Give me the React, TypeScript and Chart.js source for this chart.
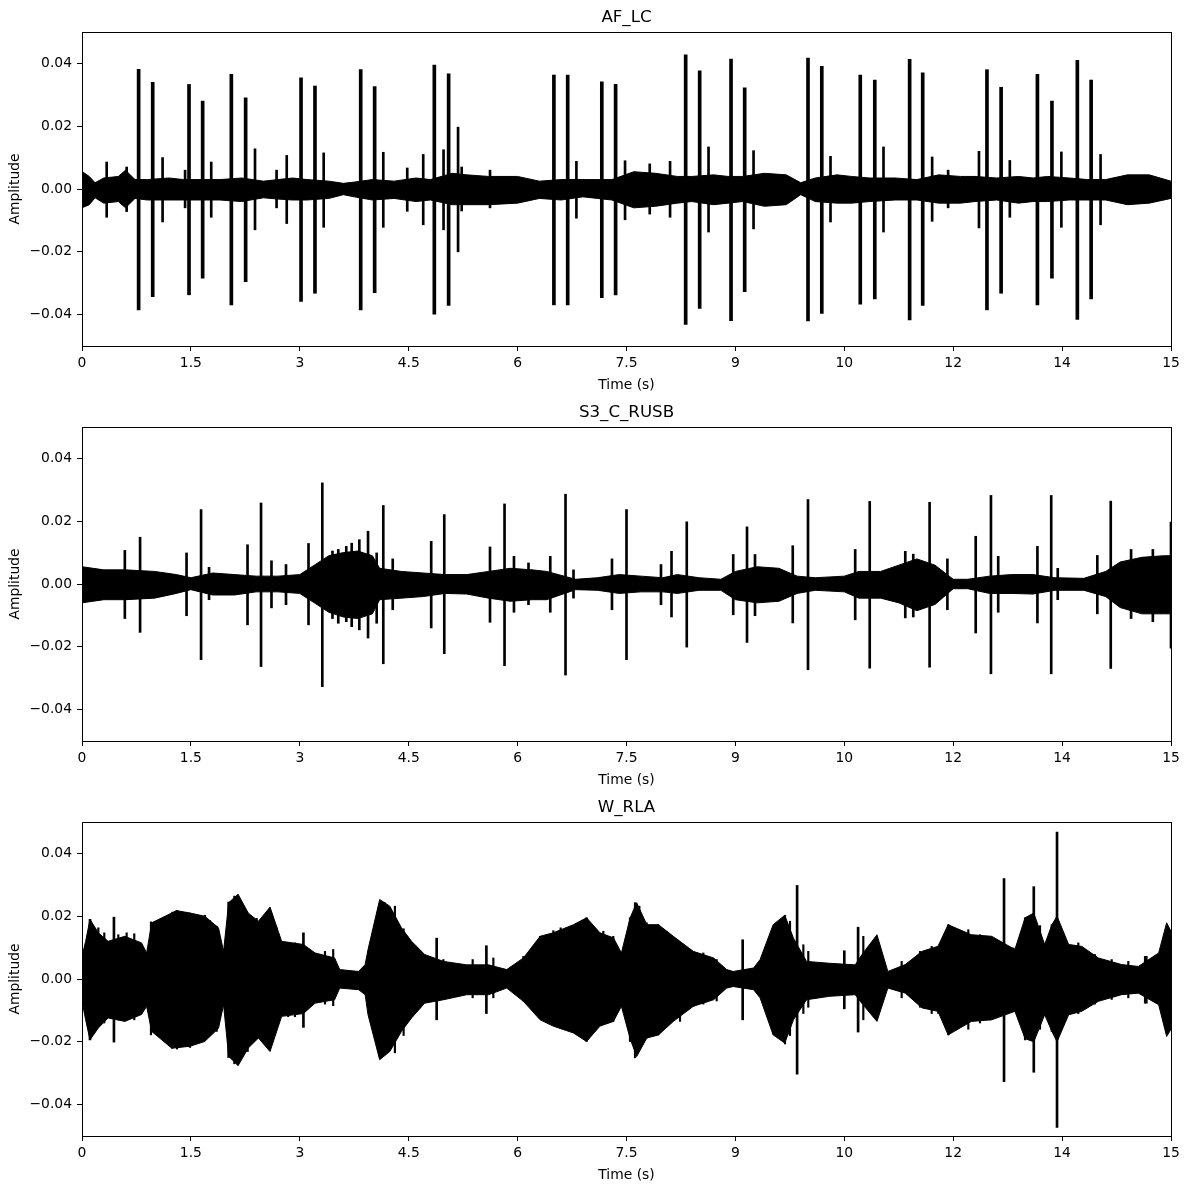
import React, { useEffect, useRef } from 'react';
import { Chart, registerables } from 'chart.js';

Chart.register(...registerables);

const FONT = 'DejaVu Sans';
Chart.defaults.font.family = FONT;

// ---- axes ----
const X_TICKS = [0, 1.5, 3, 4.5, 6, 7.5, 9, 10.5, 12, 13.5, 15];
const X_TICK_LABELS = ['0', '1.5', '3', '4.5', '6', '7.5', '9', '10', '12', '14', '15'];
const Y_TICKS = [-0.04, -0.02, 0, 0.02, 0.04];
const TITLES = ['AF_LC', 'S3_C_RUSB', 'W_RLA'];

// ---- AF_LC : noise envelope ----
const AF_T = [0, 0.1, 0.18, 0.3, 0.5, 0.6, 0.73, 0.9, 1.2, 1.4, 1.6, 1.9, 2.2, 2.5, 2.7, 2.9, 3.1, 3.4, 3.6, 3.75, 4.0, 4.3, 4.6, 4.8, 5.1, 5.3, 5.6, 6.0, 6.3, 6.6, 6.9, 7.1, 7.3, 7.6, 7.9, 8.2, 8.4, 8.7, 8.9, 9.1, 9.4, 9.7, 9.9, 10.1, 10.4, 10.6, 10.85, 11.2, 11.5, 11.8, 12.1, 12.3, 12.6, 12.9, 13.1, 13.3, 13.6, 13.85, 14.1, 14.4, 14.7, 15.0];
const AF_UP = [0.0056, 0.004, 0.002, 0.0035, 0.004, 0.006, 0.003, 0.003, 0.0035, 0.003, 0.003, 0.003, 0.0035, 0.0025, 0.003, 0.0035, 0.003, 0.0025, 0.0018, 0.0022, 0.003, 0.0025, 0.0035, 0.003, 0.005, 0.0045, 0.004, 0.004, 0.0025, 0.003, 0.003, 0.003, 0.003, 0.0055, 0.005, 0.004, 0.004, 0.0045, 0.004, 0.004, 0.005, 0.0045, 0.002, 0.0035, 0.0045, 0.004, 0.0035, 0.0035, 0.003, 0.0045, 0.004, 0.004, 0.0035, 0.004, 0.0035, 0.004, 0.0035, 0.003, 0.003, 0.0045, 0.0045, 0.0025];
const AF_LO = [-0.006, -0.005, -0.0028, -0.0045, -0.004, -0.006, -0.003, -0.0035, -0.0035, -0.0035, -0.0035, -0.0035, -0.004, -0.0028, -0.0032, -0.0035, -0.0035, -0.003, -0.0018, -0.0025, -0.0035, -0.003, -0.004, -0.0035, -0.005, -0.005, -0.005, -0.0045, -0.003, -0.0035, -0.0025, -0.003, -0.0035, -0.006, -0.0055, -0.0045, -0.004, -0.005, -0.0045, -0.004, -0.0055, -0.005, -0.0018, -0.004, -0.0045, -0.0045, -0.004, -0.0035, -0.0035, -0.0045, -0.0045, -0.004, -0.0035, -0.0045, -0.004, -0.004, -0.0035, -0.0035, -0.0035, -0.005, -0.0045, -0.003];
// ---- AF_LC : heart-sound spikes ----
const AF_SPIKE_T = [0.78, 0.974, 1.474, 1.662, 2.057, 2.254, 3.017, 3.209, 3.839, 4.031, 4.853, 5.05, 6.5, 6.69, 7.16, 7.35, 8.315, 8.508, 8.94, 9.128, 10.0, 10.19, 10.72, 10.92, 11.4, 11.58, 12.465, 12.66, 13.16, 13.36, 13.71, 13.9];
const AF_SPIKE_HI = [0.0381, 0.034, 0.0333, 0.028, 0.0365, 0.029, 0.0354, 0.0328, 0.038, 0.0326, 0.0395, 0.0367, 0.0363, 0.0363, 0.0341, 0.0333, 0.0427, 0.0376, 0.0414, 0.0322, 0.0417, 0.0391, 0.0363, 0.0347, 0.0413, 0.037, 0.038, 0.0324, 0.0365, 0.028, 0.041, 0.0347];
const AF_SPIKE_LO = [-0.0385, -0.0343, -0.0337, -0.0284, -0.0369, -0.0295, -0.0358, -0.0332, -0.0385, -0.033, -0.0399, -0.0371, -0.0369, -0.0369, -0.0346, -0.0337, -0.0431, -0.038, -0.0419, -0.0327, -0.042, -0.0396, -0.0367, -0.035, -0.0417, -0.0371, -0.0385, -0.0332, -0.0369, -0.0284, -0.0415, -0.035];
// ---- AF_LC : smaller bursts ----
const AF_BURST_T = [0.34, 0.615, 1.11, 1.42, 1.78, 2.383, 2.68, 2.82, 3.329, 4.15, 4.48, 4.7, 4.98, 5.18, 5.23, 5.62, 6.81, 7.48, 7.82, 8.1, 8.63, 9.25, 10.31, 11.04, 11.71, 11.93, 12.355, 12.78, 13.49, 14.03];
const AF_BURST_HI = [0.0086, 0.007, 0.01, 0.006, 0.0086, 0.0128, 0.006, 0.0107, 0.0115, 0.0117, 0.0067, 0.011, 0.0125, 0.0197, 0.007, 0.006, 0.0088, 0.009, 0.008, 0.0088, 0.0134, 0.0122, 0.0104, 0.0134, 0.0102, 0.006, 0.012, 0.0091, 0.0118, 0.011];
const AF_BURST_LO = [-0.009, -0.0072, -0.0105, -0.006, -0.009, -0.013, -0.006, -0.011, -0.0122, -0.0122, -0.0071, -0.0114, -0.013, -0.02, -0.007, -0.006, -0.0093, -0.0098, -0.008, -0.009, -0.0137, -0.0127, -0.0105, -0.0137, -0.0103, -0.006, -0.0124, -0.009, -0.0122, -0.0114];

// ---- S3_C_RUSB : noise envelope ----
const S3_T = [0, 0.3, 0.6, 1.0, 1.3, 1.5, 1.8, 2.1, 2.4, 2.7, 3.0, 3.2, 3.4, 3.6, 3.8, 4.0, 4.1, 4.4, 4.7, 5.0, 5.3, 5.6, 5.9, 6.2, 6.4, 6.8, 7.1, 7.4, 7.7, 8.0, 8.2, 8.5, 8.8, 9.0, 9.3, 9.6, 9.85, 10.1, 10.5, 10.7, 11.0, 11.25, 11.5, 11.75, 12.0, 12.2, 12.5, 12.8, 13.1, 13.4, 13.8, 14.1, 14.3, 14.6, 14.9, 15.0];
const S3_UP = [0.0055, 0.0045, 0.0045, 0.004, 0.003, 0.002, 0.0035, 0.003, 0.0025, 0.0025, 0.003, 0.006, 0.009, 0.01, 0.0105, 0.009, 0.005, 0.004, 0.0035, 0.003, 0.003, 0.004, 0.005, 0.0045, 0.004, 0.0015, 0.002, 0.003, 0.0025, 0.002, 0.003, 0.002, 0.0015, 0.004, 0.0055, 0.005, 0.0025, 0.002, 0.0025, 0.004, 0.004, 0.006, 0.008, 0.006, 0.0015, 0.0015, 0.0025, 0.003, 0.003, 0.002, 0.0018, 0.004, 0.007, 0.0085, 0.009, 0.009];
const S3_LO = [-0.006, -0.005, -0.005, -0.0045, -0.003, -0.0018, -0.0035, -0.0035, -0.0025, -0.0025, -0.003, -0.006, -0.009, -0.0105, -0.011, -0.0095, -0.005, -0.0045, -0.004, -0.003, -0.0032, -0.0045, -0.0055, -0.005, -0.005, -0.0018, -0.002, -0.003, -0.0025, -0.0025, -0.003, -0.002, -0.002, -0.005, -0.006, -0.0055, -0.003, -0.002, -0.0025, -0.0045, -0.0045, -0.006, -0.0085, -0.0065, -0.0015, -0.0015, -0.003, -0.003, -0.0032, -0.002, -0.002, -0.004, -0.0075, -0.0095, -0.0095, -0.0095];
// ---- S3_C_RUSB : heart-sound spikes ----
const S3_SPIKE_T = [0.8, 1.64, 2.466, 3.31, 4.15, 4.99, 5.82, 6.66, 7.5, 8.33, 9.16, 10.0, 10.85, 11.675, 12.52, 13.35, 14.17, 15.0];
const S3_SPIKE_HI = [0.0149, 0.0237, 0.0258, 0.0322, 0.025, 0.0221, 0.0255, 0.0286, 0.0237, 0.0198, 0.0182, 0.0269, 0.0263, 0.026, 0.0282, 0.0282, 0.0264, 0.0197];
const S3_SPIKE_LO = [-0.0154, -0.0241, -0.0263, -0.0327, -0.0254, -0.0222, -0.026, -0.029, -0.0241, -0.0201, -0.0186, -0.0273, -0.0268, -0.0265, -0.0286, -0.0286, -0.0269, -0.0204];
// ---- S3_C_RUSB : smaller bursts ----
const S3_BURST_T = [0.59, 1.44, 1.75, 2.28, 2.61, 2.81, 3.12, 3.45, 3.53, 3.64, 3.715, 3.82, 3.94, 4.059, 4.28, 4.81, 5.62, 5.95, 6.15, 6.45, 6.77, 7.3, 7.975, 8.12, 8.97, 9.27, 9.79, 10.65, 11.34, 11.45, 11.92, 12.31, 12.62, 13.16, 13.44, 13.985, 14.45, 14.75];
const S3_BURST_HI = [0.0107, 0.0099, 0.0053, 0.0125, 0.0074, 0.0062, 0.0129, 0.0105, 0.011, 0.012, 0.013, 0.0141, 0.0168, 0.0099, 0.008, 0.0136, 0.0118, 0.0088, 0.0067, 0.0088, 0.0045, 0.008, 0.0062, 0.0104, 0.0094, 0.0094, 0.0122, 0.011, 0.0104, 0.0095, 0.008, 0.0152, 0.0088, 0.012, 0.005, 0.0091, 0.011, 0.011];
const S3_BURST_LO = [-0.011, -0.0101, -0.005, -0.013, -0.0076, -0.0066, -0.013, -0.011, -0.0125, -0.012, -0.0136, -0.0146, -0.0172, -0.0125, -0.0082, -0.014, -0.0122, -0.009, -0.0066, -0.009, -0.0045, -0.0082, -0.0066, -0.0105, -0.0098, -0.0101, -0.0124, -0.0114, -0.0108, -0.0105, -0.0082, -0.0156, -0.009, -0.0124, -0.005, -0.0095, -0.011, -0.012];

// ---- W_RLA : noise envelope ----
const W_T = [0, 0.05, 0.11, 0.225, 0.36, 0.59, 0.82, 0.89, 0.96, 1.235, 1.3, 1.49, 1.69, 1.88, 1.95, 2.02, 2.15, 2.29, 2.43, 2.59, 2.75, 3.05, 3.21, 3.48, 3.55, 3.81, 3.9, 3.94, 4.1, 4.24, 4.4, 4.54, 4.72, 4.98, 5.3, 5.6, 5.85, 6.08, 6.31, 6.49, 6.77, 6.95, 7.135, 7.32, 7.43, 7.55, 7.64, 7.78, 7.94, 8.145, 8.42, 8.7, 8.88, 8.97, 9.25, 9.34, 9.52, 9.68, 9.8, 9.98, 10.3, 10.65, 10.75, 10.95, 11.1, 11.34, 11.57, 11.79, 11.93, 12.25, 12.53, 12.85, 12.99, 13.11, 13.26, 13.36, 13.43, 13.59, 13.77, 14.0, 14.32, 14.55, 14.83, 14.94, 15.0];
const W_UP = [0.0072, 0.012, 0.019, 0.0147, 0.012, 0.0136, 0.0115, 0.0083, 0.0179, 0.021, 0.0218, 0.021, 0.02, 0.0163, 0.0088, 0.0243, 0.027, 0.021, 0.0184, 0.0229, 0.012, 0.011, 0.0083, 0.0067, 0.003, 0.0024, 0.0046, 0.0094, 0.0253, 0.0232, 0.0163, 0.012, 0.0078, 0.0056, 0.0045, 0.0045, 0.003, 0.0067, 0.0136, 0.0147, 0.0173, 0.0195, 0.0147, 0.0131, 0.0083, 0.0195, 0.0243, 0.0173, 0.0173, 0.0136, 0.0088, 0.0067, 0.003, 0.0024, 0.0035, 0.0062, 0.0173, 0.0203, 0.013, 0.0056, 0.005, 0.0045, 0.008, 0.0141, 0.0024, 0.0046, 0.0088, 0.0104, 0.0173, 0.0141, 0.0136, 0.0094, 0.0195, 0.021, 0.011, 0.0173, 0.02, 0.011, 0.0104, 0.0067, 0.0046, 0.004, 0.0083, 0.0179, 0.0152];
const W_LO = [-0.0071, -0.013, -0.0194, -0.0156, -0.0124, -0.0135, -0.0113, -0.0087, -0.0167, -0.022, -0.0219, -0.0214, -0.0199, -0.0157, -0.0082, -0.0246, -0.0276, -0.022, -0.0188, -0.0231, -0.0119, -0.011, -0.0077, -0.0066, -0.0029, -0.0034, -0.005, -0.0114, -0.0257, -0.0231, -0.0167, -0.0124, -0.0077, -0.0066, -0.005, -0.005, -0.0029, -0.0071, -0.013, -0.015, -0.0172, -0.0199, -0.015, -0.0135, -0.0087, -0.019, -0.0247, -0.0188, -0.0178, -0.0135, -0.0087, -0.0066, -0.0029, -0.0024, -0.0034, -0.006, -0.0178, -0.0204, -0.013, -0.0066, -0.0055, -0.005, -0.008, -0.0135, -0.0029, -0.0045, -0.0092, -0.0103, -0.0178, -0.0135, -0.013, -0.0103, -0.019, -0.02, -0.0114, -0.0167, -0.02, -0.0114, -0.0103, -0.0071, -0.005, -0.0045, -0.0082, -0.0183, -0.016];
// ---- W_RLA : spikes ----
const W_SPIKE_T = [0.11, 0.44, 2.02, 3.05, 4.885, 5.57, 9.1, 9.85, 10.5, 10.69, 12.7, 13.11, 13.43, 14.66];
const W_SPIKE_HI = [0.019, 0.0197, 0.0245, 0.0147, 0.013, 0.0106, 0.0125, 0.0298, 0.009, 0.0165, 0.032, 0.0294, 0.0468, 0.0072];
const W_SPIKE_LO = [-0.0194, -0.0201, -0.025, -0.0154, -0.013, -0.011, -0.013, -0.0303, -0.0095, -0.0169, -0.0327, -0.0297, -0.0473, -0.0077];
// ---- W_RLA : jagged strokes along the envelope ----
const W_BURST_T = [0.225, 0.307, 0.5, 0.615, 0.72, 0.95, 1.03, 1.088, 1.166, 1.244, 1.309, 1.373, 1.488, 1.556, 1.694, 1.763, 1.855, 2.098, 2.282, 2.406, 2.68, 2.84, 2.934, 3.347, 3.46, 4.17, 4.31, 4.43,
  4.977, 5.161, 5.381, 5.666, 6.079, 6.309, 6.4, 6.492, 6.593, 6.676, 6.814, 6.951, 7.043, 7.181, 7.318, 7.548, 7.617, 7.677, 7.778, 7.938, 8.053, 8.237, 8.42, 8.558, 8.742, 9.362, 9.522, 9.683, 9.752, 9.936,
  10.004, 10.234, 10.762, 11.29, 11.543, 11.704, 11.795, 11.933, 12.048, 12.208, 12.369, 12.507, 12.828, 12.989, 13.196, 13.357, 13.563, 13.723, 13.953, 14.183, 14.412, 14.642];
const W_BURST_HI = [0.0163, 0.0147, 0.0141, 0.0147, 0.0144, 0.0182, 0.0176, 0.0173, 0.0163, 0.0213, 0.0218, 0.0184, 0.021, 0.0195, 0.0203, 0.0186, 0.0168, 0.0264, 0.0205, 0.0193, 0.0163, 0.0115, 0.0115, 0.0088, 0.0094, 0.0243, 0.0232, 0.016,
  0.0062, 0.0046, 0.0062, 0.0067, 0.0072, 0.0136, 0.0141, 0.0154, 0.0163, 0.0163, 0.0176, 0.0195, 0.0163, 0.0152, 0.0136, 0.0195, 0.0243, 0.0232, 0.0179, 0.0173, 0.0152, 0.0115, 0.0083, 0.0083, 0.0062, 0.0062, 0.0163, 0.0203, 0.0184, 0.0109,
  0.0088, 0.0046, 0.0136, 0.0056, 0.0088, 0.0104, 0.0104, 0.0173, 0.0147, 0.0157, 0.0141, 0.013, 0.0099, 0.0195, 0.017, 0.0173, 0.011, 0.0115, 0.0078, 0.0062, 0.0056, 0.0072];
const W_BURST_LO = [-0.015, -0.014, -0.013, -0.0129, -0.013, -0.0178, -0.017, -0.0183, -0.018, -0.0221, -0.0223, -0.019, -0.0218, -0.019, -0.0189, -0.018, -0.0167, -0.027, -0.0231, -0.019, -0.0145, -0.012, -0.012, -0.008, -0.0085, -0.024, -0.0235, -0.018,
  -0.006, -0.0055, -0.006, -0.006, -0.007, -0.0119, -0.0136, -0.0145, -0.0156, -0.016, -0.0167, -0.0199, -0.015, -0.014, -0.0135, -0.0199, -0.0251, -0.022, -0.0188, -0.0178, -0.015, -0.0135, -0.0087, -0.008, -0.007, -0.006, -0.0175, -0.0207, -0.018, -0.011,
  -0.009, -0.005, -0.013, -0.006, -0.009, -0.011, -0.011, -0.0178, -0.015, -0.016, -0.014, -0.013, -0.01, -0.0194, -0.016, -0.0167, -0.0115, -0.011, -0.008, -0.0065, -0.006, -0.0077];

const framePlugin = {
  id: 'frame',
  afterDraw(chart: any) {
    const { ctx, chartArea } = chart;
    const l = Math.round(chartArea.left), t = Math.round(chartArea.top);
    const r = Math.round(chartArea.right), b = Math.round(chartArea.bottom);
    ctx.save();
    ctx.strokeStyle = '#000';
    ctx.lineWidth = 1;
    ctx.strokeRect(l + 0.5, t + 0.5, r - l, b - t);
    ctx.restore();
  },
};

const fmtY = (v: number) => (v < 0 ? '\u2212' : '') + Math.abs(v).toFixed(2);

const bars = (ts: number[], hi: number[], lo: number[], thick: number) => ({
  type: 'bar',
  data: ts.map((x, i) => ({ x, y: [lo[i], hi[i]] })),
  backgroundColor: '#000', borderWidth: 0, barThickness: thick, grouped: false,
});

function Panel(props: any) {
  const { top, title, t, up, lo, st, shi, slo, thick, bt, bhi, blo, bthick } = props;
  const ref = useRef<HTMLCanvasElement>(null);
  useEffect(() => {
    const tickFont = { family: FONT, size: 13.89 };
    const chart = new Chart(ref.current as HTMLCanvasElement, {
      type: 'line',
      data: {
        datasets: [
          {
            type: 'line',
            data: t.map((x: number, i: number) => ({ x, y: up[i] })),
            borderColor: '#000', borderWidth: 1, pointRadius: 0, fill: false, tension: 0,
          },
          {
            type: 'line',
            data: t.map((x: number, i: number) => ({ x, y: lo[i] })),
            borderColor: '#000', borderWidth: 1, pointRadius: 0, fill: '-1', backgroundColor: '#000', tension: 0,
          },
          bars(bt, bhi, blo, bthick) as any,
          bars(st, shi, slo, thick) as any,
        ],
      },
      options: {
        responsive: false,
        animation: false,
        devicePixelRatio: 1,
        layout: { padding: { left: 0, right: 18, top: 0, bottom: 0 } },
        plugins: {
          legend: { display: false },
          tooltip: { enabled: false },
          title: {
            display: true, text: title, fullSize: false, color: '#000',
            font: { family: FONT, size: 16.67, weight: 'normal' },
            padding: { top: 8, bottom: 4 },
          },
        },
        scales: {
          x: {
            type: 'linear', min: 0, max: 15, offset: false,
            afterBuildTicks: (s: any) => { s.ticks = X_TICKS.map((v) => ({ value: v })); },
            afterFit: (s: any) => { s.height = 49; },
            ticks: {
              callback: (_v: any, i: number) => X_TICK_LABELS[i],
              color: '#000', font: tickFont, padding: 4, maxRotation: 0, autoSkip: false,
            },
            grid: { offset: false, drawOnChartArea: false, drawTicks: true, tickLength: 5, color: '#000', tickColor: '#000', tickWidth: 1 },
            border: { display: false },
            title: { display: true, text: 'Time (s)', color: '#000', font: tickFont, padding: { top: 0, bottom: 1 } },
          },
          y: {
            type: 'linear', min: -0.05, max: 0.05,
            afterBuildTicks: (s: any) => { s.ticks = Y_TICKS.map((v) => ({ value: v })); },
            afterFit: (s: any) => { s.width = 82; },
            ticks: { callback: (v: any) => fmtY(Number(v)), color: '#000', font: tickFont, padding: 5, autoSkip: false },
            grid: { offset: false, drawOnChartArea: false, drawTicks: true, tickLength: 5, color: '#000', tickColor: '#000', tickWidth: 1 },
            border: { display: false },
            title: { display: true, text: 'Amplitude', color: '#000', font: tickFont, padding: { top: 7, bottom: 0 } },
          },
        },
      } as any,
      plugins: [framePlugin],
    });
    return () => chart.destroy();
  }, []);
  return (
    <canvas
      ref={ref}
      width={1189}
      height={395}
      style={{ position: 'absolute', left: 0, top, width: 1189, height: 395, display: 'block' }}
    />
  );
}

export default function App() {
  return (
    <div style={{ position: 'absolute', left: 0, top: 0, width: 1189, height: 1190, background: '#fff' }}>
      <Panel top={0} title={TITLES[0]} t={AF_T} up={AF_UP} lo={AF_LO}
        st={AF_SPIKE_T} shi={AF_SPIKE_HI} slo={AF_SPIKE_LO} thick={3}
        bt={AF_BURST_T} bhi={AF_BURST_HI} blo={AF_BURST_LO} bthick={2} />
      <Panel top={395} title={TITLES[1]} t={S3_T} up={S3_UP} lo={S3_LO}
        st={S3_SPIKE_T} shi={S3_SPIKE_HI} slo={S3_SPIKE_LO} thick={2}
        bt={S3_BURST_T} bhi={S3_BURST_HI} blo={S3_BURST_LO} bthick={2} />
      <Panel top={790} title={TITLES[2]} t={W_T} up={W_UP} lo={W_LO}
        st={W_SPIKE_T} shi={W_SPIKE_HI} slo={W_SPIKE_LO} thick={2}
        bt={W_BURST_T} bhi={W_BURST_HI} blo={W_BURST_LO} bthick={1.5} />
    </div>
  );
}
